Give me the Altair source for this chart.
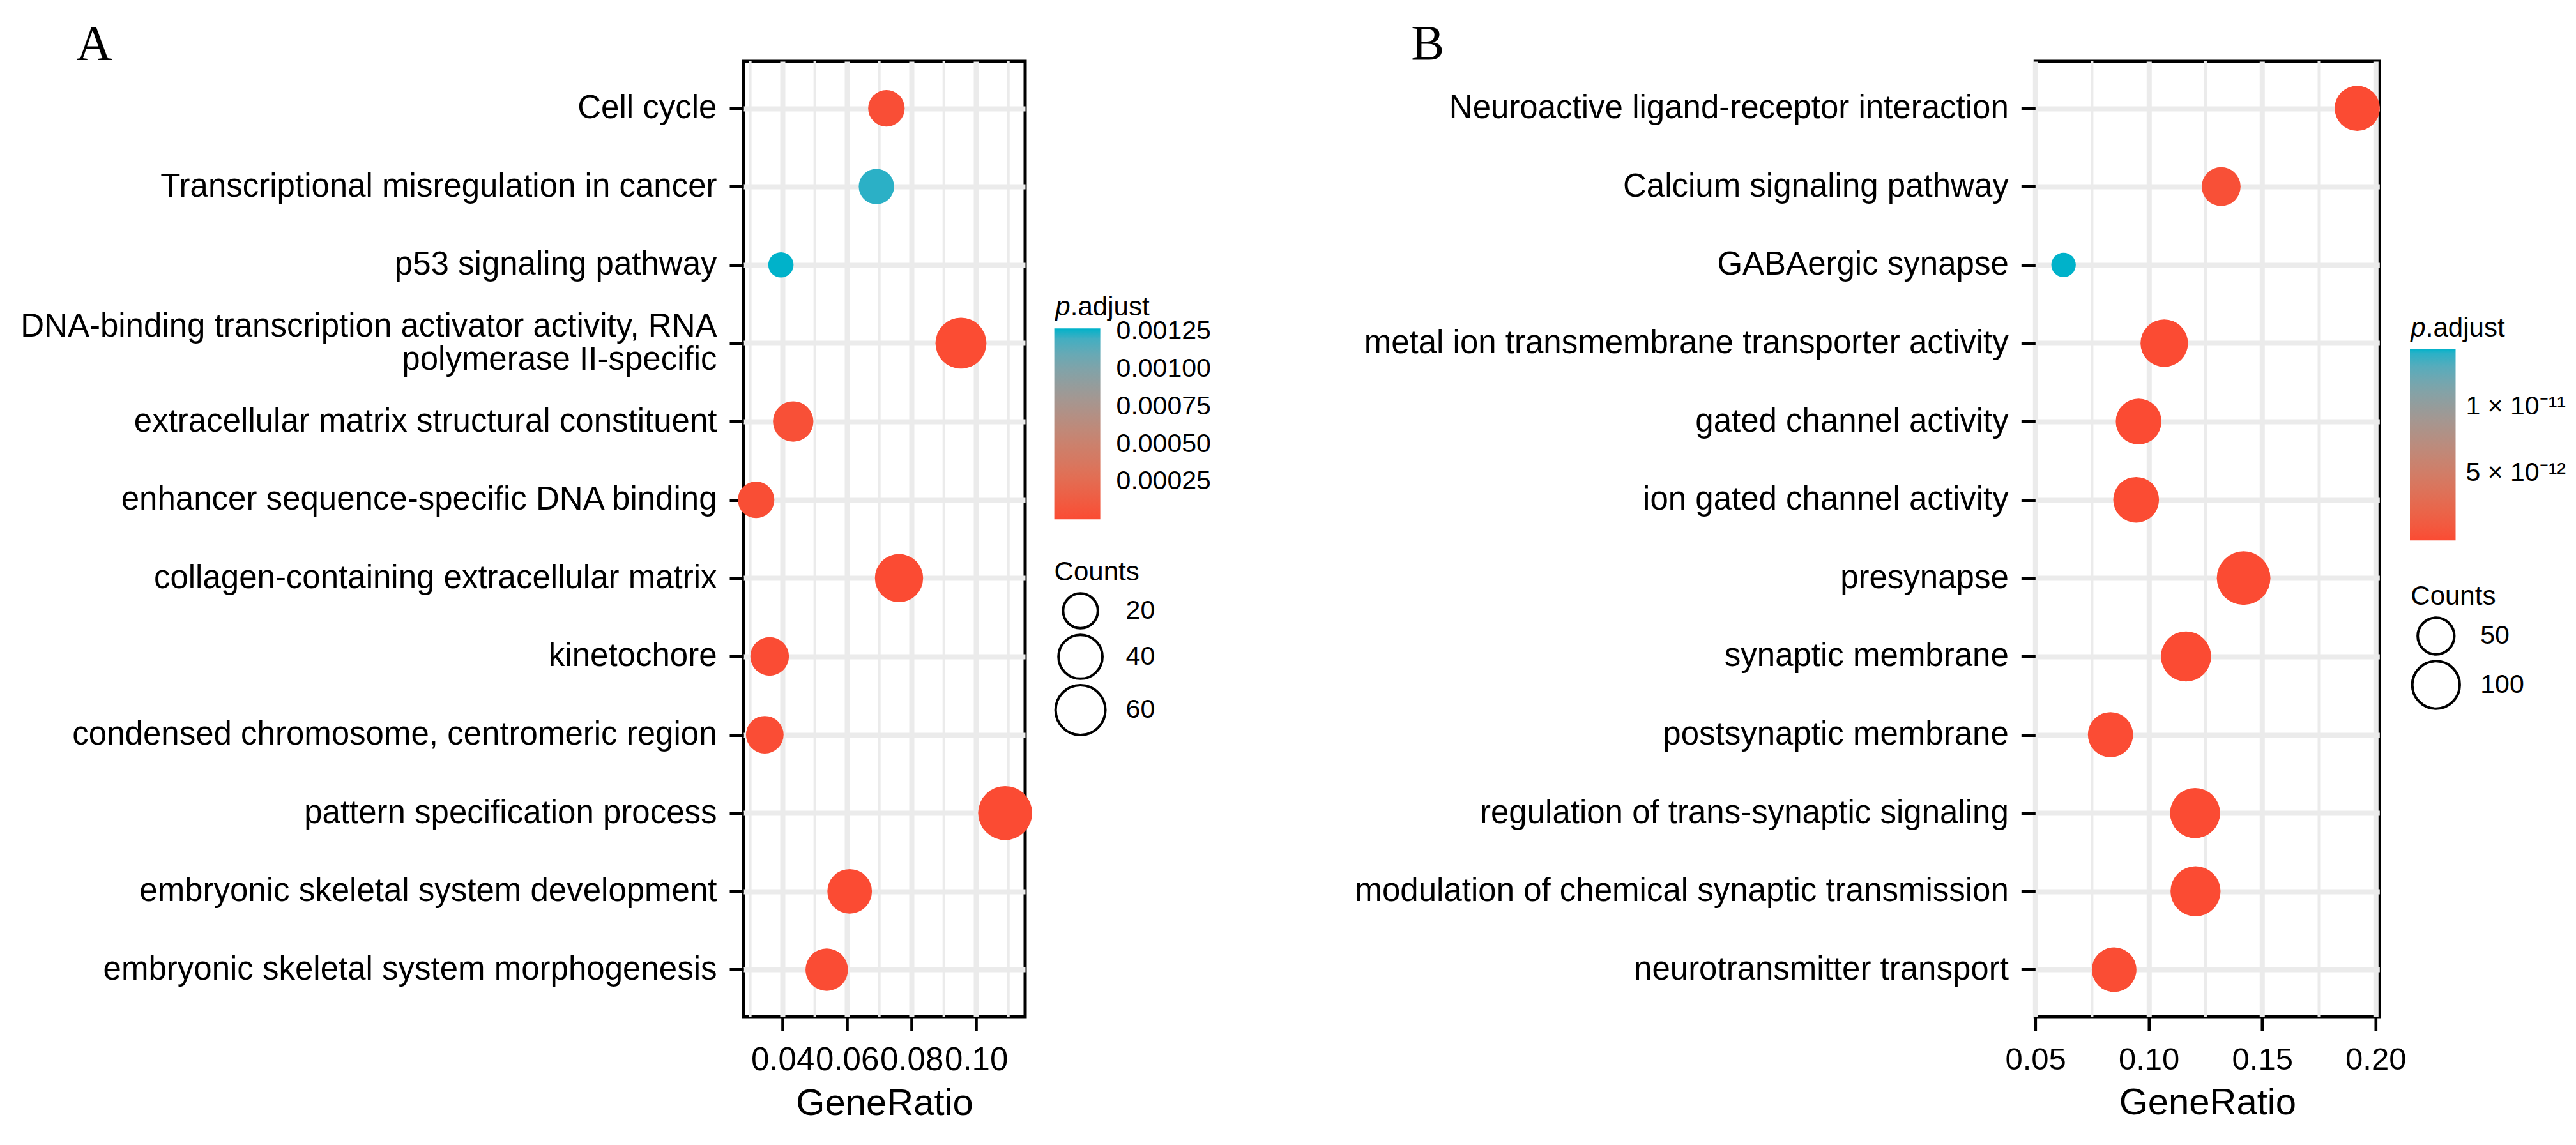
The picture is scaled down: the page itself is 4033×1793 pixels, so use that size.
import altair as alt
import pandas as pd

# ---------------- Panel A data ----------------
terms_a = [
    "Cell cycle",
    "Transcriptional misregulation in cancer",
    "p53 signaling pathway",
    "DNA-binding transcription activator activity, RNA polymerase II-specific",
    "extracellular matrix structural constituent",
    "enhancer sequence-specific DNA binding",
    "collagen-containing extracellular matrix",
    "kinetochore",
    "condensed chromosome, centromeric region",
    "pattern specification process",
    "embryonic skeletal system development",
    "embryonic skeletal system morphogenesis",
]
gene_ratio_a = [0.0722, 0.0691, 0.0395, 0.0953, 0.0433, 0.0318,
                0.0761, 0.0360, 0.0345, 0.1090, 0.0608, 0.0537]
counts_a = [23, 21, 9, 65, 31, 23, 54, 27, 25, 79, 42, 36]
padj_a = [2.1e-5, 1.24e-3, 1.27e-3, 4e-6, 3.5e-5, 1.8e-5,
          2e-6, 8e-6, 1.5e-5, 1e-7, 3e-6, 6e-6]
wrap_a = {
    "DNA-binding transcription activator activity, RNA polymerase II-specific":
        ["DNA-binding transcription activator activity, RNA", "polymerase II-specific"],
}
x_ticks_a = [0.04, 0.06, 0.08, 0.10]
x_minor_a = [0.03, 0.05, 0.07, 0.09, 0.11]
padj_ticks_a = [0.00025, 0.0005, 0.00075, 0.001, 0.00125]
count_ticks_a = [20, 40, 60]

# ---------------- Panel B data ----------------
terms_b = [
    "Neuroactive ligand-receptor interaction",
    "Calcium signaling pathway",
    "GABAergic synapse",
    "metal ion transmembrane transporter activity",
    "gated channel activity",
    "ion gated channel activity",
    "presynapse",
    "synaptic membrane",
    "postsynaptic membrane",
    "regulation of trans-synaptic signaling",
    "modulation of chemical synaptic transmission",
    "neurotransmitter transport",
]
gene_ratio_b = [0.1919, 0.1319, 0.0624, 0.1068, 0.0955, 0.0944,
                0.1418, 0.1164, 0.0831, 0.1204, 0.1206, 0.0847]
counts_b = [87, 58, 22, 100, 90, 90, 144, 118, 87, 117, 117, 84]
padj_b = [2e-14, 4e-13, 1.43e-11, 6e-15, 3e-14, 4e-14,
          1e-16, 2e-15, 5e-14, 8e-15, 9e-15, 1.2e-13]
x_ticks_b = [0.05, 0.10, 0.15, 0.20]
x_minor_b = [0.075, 0.125, 0.175]
padj_ticks_b = [5e-12, 1e-11]
count_ticks_b = [50, 100]

RED = "#FB4B33"
TEAL = "#00B2CA"
GRID = "#EBEBEB"
FONT = "Liberation Sans"
SERIF = "Liberation Serif"
H = 1496
LINE_H = 52


def label_expr(wraps):
    expr = "datum.label"
    for full, lines in wraps.items():
        arr = "[" + ", ".join("'" + l + "'" for l in lines) + "]"
        expr = "datum.label == '" + full + "' ? " + arr + " : " + expr
    return expr


def text_layer(s, x, y, size, font=FONT, style="normal"):
    return alt.Chart(pd.DataFrame({"s": [s]})).mark_text(
        align="left", baseline="alphabetic", fontSize=size, font=font,
        fontStyle=style, color="black"
    ).encode(x=alt.value(x), y=alt.value(y), text="s:N")


def panel(terms, ratio, counts, padj, W, xdom, xticks, xminor, xfont,
          sdom, srange, cdom, cticks, cfmt, clab, sticks, wraps,
          leg, letter):
    df = pd.DataFrame({"Description": terms, "GeneRatio": ratio,
                       "Counts": counts, "padj": padj})
    xscale = alt.Scale(domain=xdom, nice=False, zero=False)
    xaxis = alt.Axis(values=xticks, format=".2f", title="GeneRatio",
                     labelFontSize=xfont, labelColor="black", labelPadding=21,
                     labelOverlap=False, labelFlush=False,
                     tickSize=22, tickWidth=4.6, tickColor="black",
                     domain=False, grid=True, gridColor=GRID, gridWidth=8,
                     titleFontSize=58, titleFontWeight="normal",
                     titleColor="black", titlePadding=14)
    yaxis_kw = dict(title=None, labelFontSize=51, labelColor="black",
                    labelPadding=20, labelLimit=0, labelLineHeight=LINE_H,
                    tickSize=22, tickWidth=5, tickColor="black",
                    domain=False, grid=True, gridColor=GRID, gridWidth=8)
    if wraps:
        yaxis_kw["labelExpr"] = label_expr(wraps)
        full = list(wraps.keys())[0]
        yaxis_kw["labelOffset"] = {
            "condition": {"test": "datum.label == '" + full + "'",
                          "value": -LINE_H / 2},
            "value": 0,
        }
    yaxis = alt.Axis(**yaxis_kw)

    minor = alt.Chart(pd.DataFrame({"GeneRatio": xminor})).mark_rule(
        color=GRID, strokeWidth=4
    ).encode(x=alt.X("GeneRatio:Q", scale=xscale, axis=xaxis),
             y=alt.value(0), y2=alt.value(H))

    color_leg = dict(orient="none", legendX=leg["gx"], legendY=leg["gy"],
                     title=None, values=cticks, direction="vertical",
                     gradientLength=leg["glen"], gradientThickness=leg["gth"],
                     gradientStrokeWidth=0, labelFontSize=41,
                     labelColor="black", labelOffset=leg["loff"])
    if clab:
        color_leg["labelExpr"] = clab
    else:
        color_leg["format"] = cfmt

    points = alt.Chart(df).mark_circle(opacity=1).encode(
        x=alt.X("GeneRatio:Q", scale=xscale, axis=xaxis),
        y=alt.Y("Description:N", sort=terms,
                scale=alt.Scale(padding=0.6), axis=yaxis),
        size=alt.Size("Counts:Q",
                      scale=alt.Scale(type="sqrt", domain=sdom,
                                      range=srange, zero=False),
                      legend=alt.Legend(orient="none", legendX=leg["sx"],
                                        legendY=leg["sy"], title="Counts",
                                        titleFontSize=42,
                                        titleFontWeight="normal",
                                        titleColor="black", titlePadding=9,
                                        values=sticks, labelFontSize=41,
                                        labelColor="black", labelOffset=30,
                                        symbolType="circle",
                                        symbolFillColor="transparent",
                                        symbolStrokeColor="black",
                                        symbolStrokeWidth=4,
                                        rowPadding=-7.5)),
        color=alt.Color("padj:Q",
                        scale=alt.Scale(domain=cdom, range=[RED, TEAL],
                                        interpolate="lab"),
                        legend=alt.Legend(**color_leg)),
    )
    t_p = text_layer("p", leg["tx"], leg["ty"], 42, style="italic")
    t_adj = text_layer(".adjust", leg["tx"] + 23.5, leg["ty"], 42)
    t_letter = text_layer(letter["s"], letter["x"], letter["y"], 78, font=SERIF)
    return alt.layer(minor, points, t_p, t_adj, t_letter).properties(
        width=W, height=H)


panel_a = panel(
    terms_a, gene_ratio_a, counts_a, padj_a, 441,
    [0.0279, 0.1152], x_ticks_a, x_minor_a, 51,
    [9, 79], [1565, 7159], [0, 0.00127], padj_ticks_a, ".5f", None,
    count_ticks_a, wrap_a,
    dict(gx=486.6, gy=418.3, glen=299, gth=72, loff=25,
         tx=488.3, ty=398, sx=486.6, sy=780),
    dict(s="A", x=-1044.7, y=-2.7),
)

panel_b = panel(
    terms_b, gene_ratio_b, counts_b, padj_b, 539,
    [0.0499, 0.2017], x_ticks_b, x_minor_b, 49,
    [22, 144], [1465, 7047], [0, 1.43e-11], padj_ticks_b, None,
    "datum.value > 7e-12 ? '1 \u00d7 10\u207b\u00b9\u00b9' : '5 \u00d7 10\u207b\u00b9\u00b2'",
    count_ticks_b, {},
    dict(gx=586.7, gy=450.3, glen=300, gth=71.5, loff=16,
         tx=588, ty=431.3, sx=588, sy=818),
    dict(s="B", x=-977, y=-2.7),
)

chart = alt.hconcat(panel_a, panel_b, spacing=1581.3, bounds="flush").resolve_scale(
    color="independent", size="independent"
).properties(
    padding={"left": 21, "top": 20, "right": 0, "bottom": 0},
    background="white",
).configure_view(
    stroke="black", strokeWidth=5, fill="white"
).configure_axis(
    labelFont=FONT, titleFont=FONT
).configure_legend(
    labelFont=FONT, titleFont=FONT
)

chart.save("out.html", embed_options={"renderer": "svg", "actions": False})
